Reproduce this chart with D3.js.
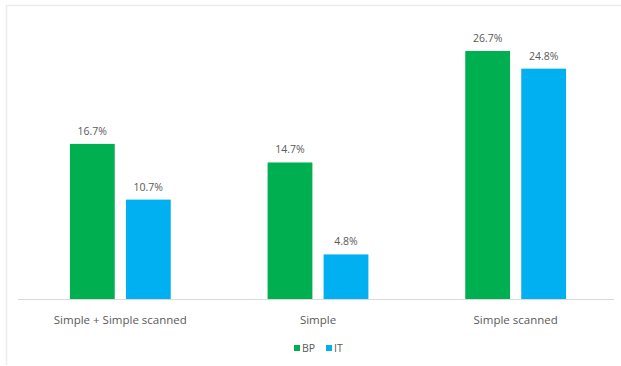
<!DOCTYPE html>
<html><head><meta charset="utf-8">
<script src="https://cdn.jsdelivr.net/npm/d3@7/dist/d3.min.js"></script>
<style>body{margin:0;background:#fff}svg{display:block}</style>
</head><body>
<script>
const categories = ["Simple + Simple scanned", "Simple", "Simple scanned"];
const seriesNames = ["BP", "IT"];
const bpValues = [16.7, 14.7, 26.7];
const itValues = [10.7, 4.8, 24.8];
const colors = ["#00B050", "#00B0F0"];

const W = 621, H = 366;
const svg = d3.select("body").append("svg").attr("width", W).attr("height", H);

// chart frame
svg.append("line").attr("x1", 6).attr("x2", W).attr("y1", 5.5).attr("y2", 5.5).attr("stroke", "#ececec").attr("stroke-width", 1.5);
svg.append("line").attr("x1", 6.5).attr("x2", 6.5).attr("y1", 5).attr("y2", 365).attr("stroke", "#ececec").attr("stroke-width", 1.5);

const x0 = d3.scaleBand().domain(categories).range([21.5, 614.5]).paddingInner(0.49).paddingOuter(0.245);
const x1 = d3.scaleBand().domain(seriesNames).range([0, x0.bandwidth()]).paddingInner(0.2);
const y = d3.scaleLinear().domain([0, 26.7]).range([299, 51]);

const data = categories.map((c, i) => ({cat: c, vals: [bpValues[i], itValues[i]]}));

const g = svg.append("g");
const groups = g.selectAll("g.grp").data(data).enter().append("g")
  .attr("transform", d => `translate(${x0(d.cat)},0)`);

groups.selectAll("rect").data(d => d.vals.map((v, j) => ({v, s: seriesNames[j], j})))
  .enter().append("rect")
  .attr("x", d => x1(d.s)).attr("width", x1.bandwidth())
  .attr("y", d => y(d.v)).attr("height", d => y(0) - y(d.v))
  .attr("fill", d => colors[d.j]);

groups.selectAll("text.val").data(d => d.vals.map((v, j) => ({v, s: seriesNames[j], j})))
  .enter().append("text")
  .attr("x", d => x1(d.s) + x1.bandwidth() / 2).attr("y", d => y(d.v) - 9)
  .attr("text-anchor", "middle")
  .attr("font-family", "Open Sans, sans-serif").attr("font-size", 10.5)
  .attr("fill", "#595959")
  .text(d => d.v.toFixed(1) + "%");

// baseline axis
const xAxis = d3.axisBottom(x0).tickSize(0).tickPadding(17);
const ax = svg.append("g").attr("transform", `translate(0,${y(0)})`).call(xAxis);
ax.select(".domain").attr("stroke", "#d9d9d9").attr("d", "M18,0.5H614");
ax.selectAll("text").attr("font-family", "Open Sans, sans-serif").attr("font-size", 11.5).attr("fill", "#595959");

// legend
const legend = svg.append("g").attr("transform", "translate(294,348)");
const lx = [0, 32];
seriesNames.forEach((s, i) => {
  legend.append("rect").attr("x", lx[i]).attr("y", -3).attr("width", 6).attr("height", 6).attr("fill", colors[i]);
  legend.append("text").attr("x", lx[i] + 8).attr("y", 0).attr("dy", "0.35em")
    .attr("font-family", "Open Sans, sans-serif").attr("font-size", 10.5).attr("fill", "#595959").text(s);
});
</script>
</body></html>
